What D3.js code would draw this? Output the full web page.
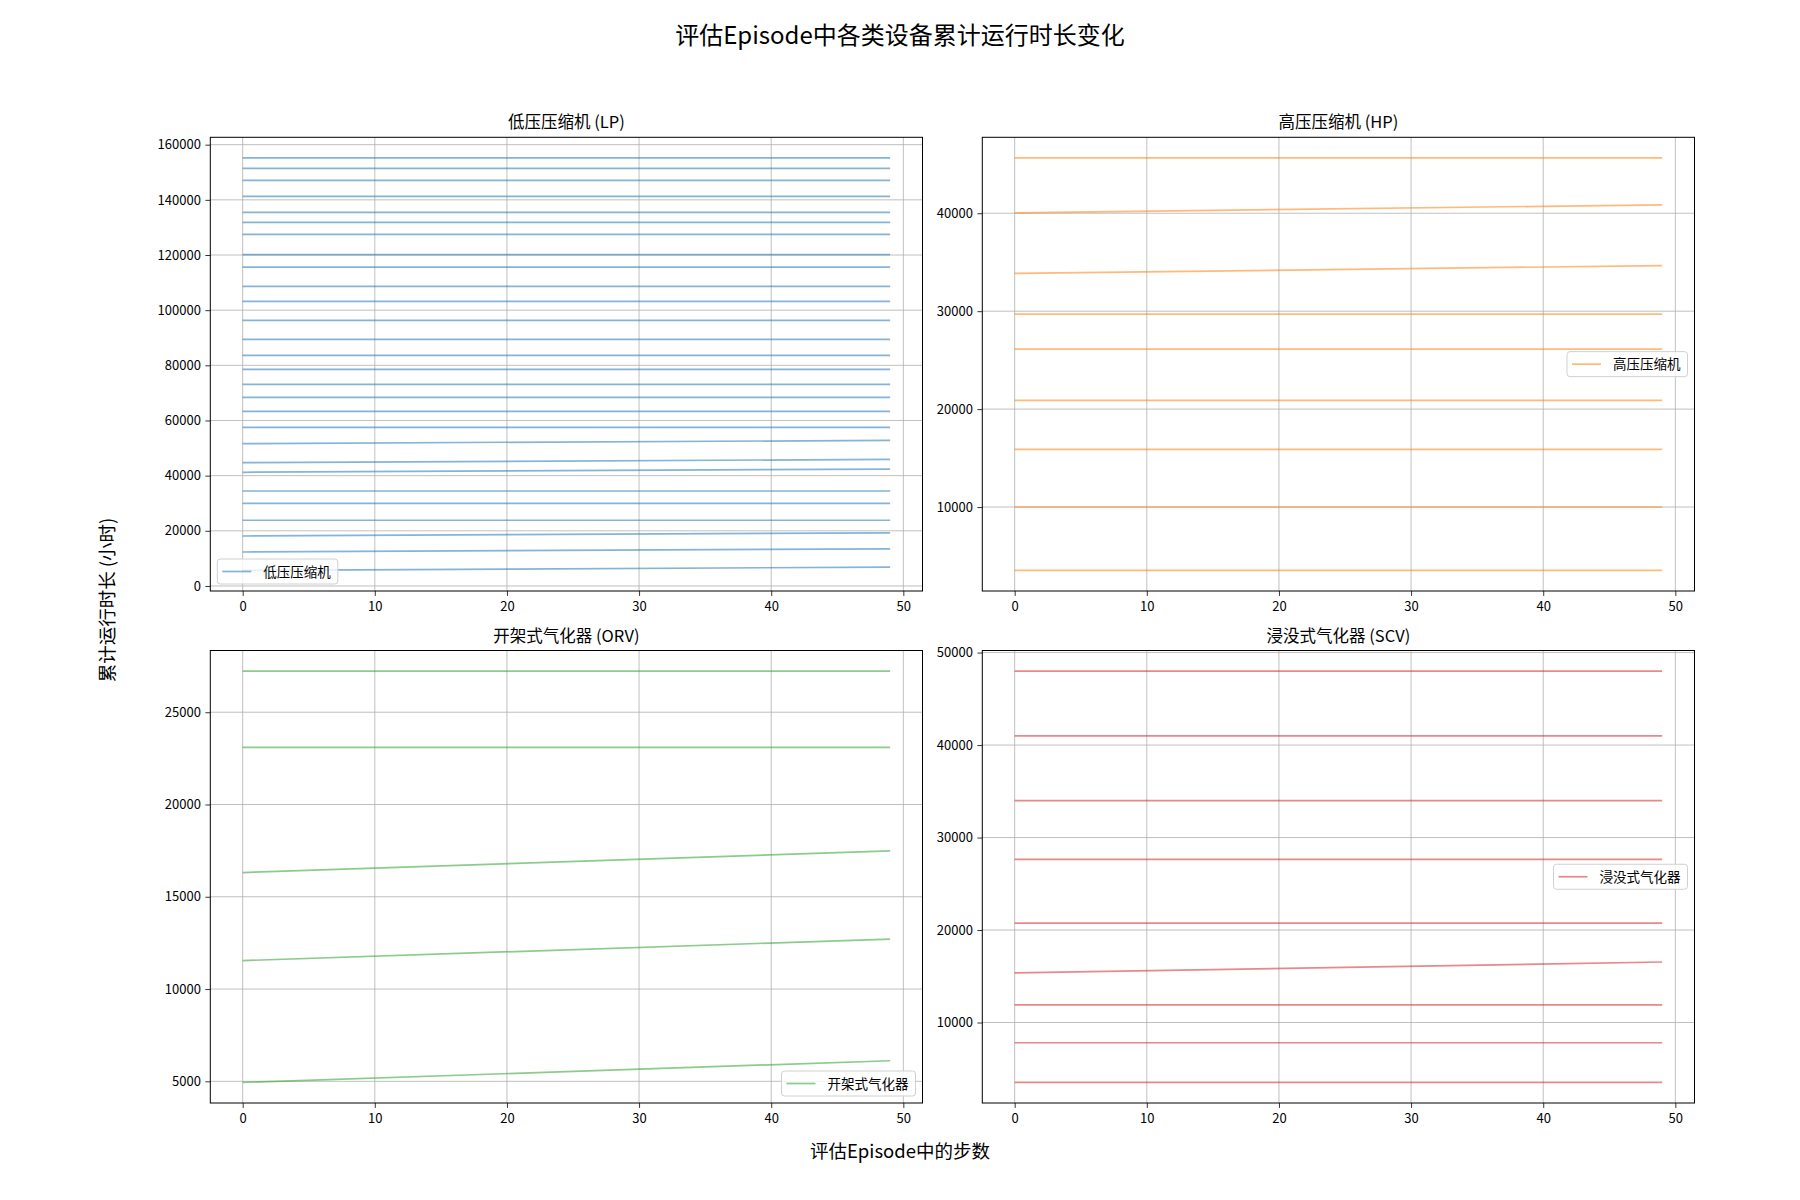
<!DOCTYPE html>
<html>
<head>
<meta charset="utf-8">
<script src="https://cdn.jsdelivr.net/npm/d3@7"></script>
<style>
  html, body { margin: 0; padding: 0; background: #fff; }
  svg { display: block; }
  text { font-family: "Noto Sans CJK SC", "DejaVu Sans", sans-serif; fill: #000; }
</style>
</head>
<body>
<svg id="chart" width="1800" height="1200"></svg>
<script>
// ---------------- data ----------------
const steps = [0, 49];                      // first and last evaluation step
const xTicks = [0, 10, 20, 30, 40, 50];

// 低压压缩机 (LP): cumulative hours per unit at step 0 and step 49
const lpStart = [155200, 151400, 147060, 141260, 135460, 131840, 127490, 120130, 115640, 108640,
                 103200, 96310, 89430, 83630, 78550, 73110, 68400, 63330, 57530, 51620,
                 44730, 41220, 34440, 29980, 23820, 18120, 12320, 5650];
const lpEnd   = [155200, 151400, 147060, 141260, 135460, 131840, 127490, 120130, 115640, 108640,
                 103200, 96310, 89430, 83630, 78550, 73110, 68400, 63330, 57530, 52780,
                 45890, 42380, 34440, 29980, 23820, 19280, 13480, 6830];
const lpTicks = [0, 20000, 40000, 60000, 80000, 100000, 120000, 140000, 160000];

// 高压压缩机 (HP)
const hpStart = [45650, 40040, 33850, 29690, 26120, 20890, 15890, 10000, 3530];
const hpEnd   = [45650, 40860, 34660, 29690, 26120, 20890, 15890, 10000, 3530];
const hpTicks = [10000, 20000, 30000, 40000];

// 开架式气化器 (ORV)
const orvStart = [27230, 23090, 16310, 11540, 4940];
const orvEnd   = [27230, 23090, 17490, 12710, 6115];
const orvTicks = [5000, 10000, 15000, 20000, 25000];

// 浸没式气化器 (SCV)
const scvStart = [48000, 41000, 34000, 27640, 20740, 15360, 11910, 7810, 3520];
const scvEnd   = [48000, 41000, 34000, 27640, 20740, 16540, 11910, 7810, 3520];
const scvTicks = [10000, 20000, 30000, 40000, 50000];

const titles  = ["低压压缩机 (LP)", "高压压缩机 (HP)", "开架式气化器 (ORV)", "浸没式气化器 (SCV)"];
const legends = ["低压压缩机", "高压压缩机", "开架式气化器", "浸没式气化器"];
const colors  = ["#1f77b4", "#ff7f0e", "#2ca02c", "#d62728"];

const suptitle = "评估Episode中各类设备累计运行时长变化";
const xLabel = "评估Episode中的步数";
const yLabel = "累计运行时长 (小时)";

// ---------------- layout ----------------
const svg = d3.select("#chart");
const boxes = [
  {x0: 210.3, x1: 922.5, y0: 137.3, y1: 591, legend: "lower left"},
  {x0: 982.3, x1: 1694.5, y0: 137.3, y1: 591, legend: "center right"},
  {x0: 210.3, x1: 922.5, y0: 650.5, y1: 1103, legend: "lower right"},
  {x0: 982.3, x1: 1694.5, y0: 650.5, y1: 1103, legend: "center right"}
];
const panelData = [
  {start: lpStart, end: lpEnd, ticks: lpTicks},
  {start: hpStart, end: hpEnd, ticks: hpTicks},
  {start: orvStart, end: orvEnd, ticks: orvTicks},
  {start: scvStart, end: scvEnd, ticks: scvTicks}
];

panelData.forEach((pd, i) => {
  const b = boxes[i];
  const series = pd.start.map((s, k) => steps.map((st, j) => ({step: st, v: j === 0 ? s : pd.end[k]})));
  const xr = d3.extent(steps), xm = (xr[1] - xr[0]) * 0.05;
  const x = d3.scaleLinear().domain([xr[0] - xm, xr[1] + xm]).range([b.x0, b.x1]);
  const all = pd.start.concat(pd.end);
  const yr = d3.extent(all), ym = (yr[1] - yr[0]) * 0.05;
  const y = d3.scaleLinear().domain([yr[0] - ym, yr[1] + ym]).range([b.y1, b.y0]);

  const g = svg.append("g");

  // grid
  g.append("g").selectAll("line.gx").data(xTicks.filter(t => x(t) >= b.x0 && x(t) <= b.x1)).join("line")
    .attr("x1", d => x(d)).attr("x2", d => x(d)).attr("y1", b.y0).attr("y2", b.y1)
    .attr("stroke", "#b0b0b0").attr("stroke-width", 0.8);
  g.append("g").selectAll("line.gy").data(pd.ticks).join("line")
    .attr("y1", d => y(d)).attr("y2", d => y(d)).attr("x1", b.x0).attr("x2", b.x1)
    .attr("stroke", "#b0b0b0").attr("stroke-width", 0.8);

  // lines
  const line = d3.line().x(d => x(d.step)).y(d => y(d.v));
  g.append("g").selectAll("path").data(series).join("path")
    .attr("d", line).attr("fill", "none")
    .attr("stroke", colors[i]).attr("stroke-opacity", 0.55).attr("stroke-width", 1.7);

  // axes
  const xAxis = d3.axisBottom(x).tickValues(xTicks).tickSize(4.9).tickPadding(5.5).tickFormat(d3.format("d"));
  const yAxis = d3.axisLeft(y).tickValues(pd.ticks).tickSize(4.9).tickPadding(4.5).tickFormat(d3.format("d"));
  const gx = g.append("g").attr("transform", `translate(0,${b.y1})`).call(xAxis);
  const gy = g.append("g").attr("transform", `translate(${b.x0},0)`).call(yAxis);
  [gx, gy].forEach(a => {
    a.select(".domain").remove();
    a.selectAll(".tick line").attr("stroke", "#000").attr("stroke-width", 0.8);
    a.selectAll(".tick text").attr("font-size", 13).attr("fill", "#000")
      .style("font-family", '"Noto Sans CJK SC", sans-serif');
  });

  // frame
  g.append("rect").attr("x", b.x0).attr("y", b.y0).attr("width", b.x1 - b.x0).attr("height", b.y1 - b.y0)
    .attr("fill", "none").attr("stroke", "#000").attr("stroke-width", 1);

  // title
  g.append("text").attr("x", (b.x0 + b.x1) / 2).attr("y", b.y0 - 9)
    .attr("text-anchor", "middle").attr("font-size", 16.5).text(titles[i]);

  // legend
  const lg = g.append("g");
  const lt = lg.append("text").attr("font-size", 13.5).text(legends[i]);
  const tw = lt.node().getComputedTextLength();
  const lw = 6 + 29 + 12 + tw + 6, lh = 25;
  let lx, ly;
  if (b.legend === "lower left") { lx = b.x0 + 7; ly = b.y1 - 7 - lh; }
  else if (b.legend === "lower right") { lx = b.x1 - 7 - lw; ly = b.y1 - 7 - lh; }
  else { lx = b.x1 - 7 - lw; ly = (b.y0 + b.y1) / 2 - lh / 2; }
  lg.insert("rect", "text").attr("x", lx).attr("y", ly).attr("width", lw).attr("height", lh)
    .attr("rx", 3).attr("fill", "#fff").attr("fill-opacity", 0.8)
    .attr("stroke", "#d0d0d0").attr("stroke-width", 1);
  lg.insert("line", "text").attr("x1", lx + 5).attr("x2", lx + 34).attr("y1", ly + lh / 2).attr("y2", ly + lh / 2)
    .attr("stroke", colors[i]).attr("stroke-opacity", 0.55).attr("stroke-width", 1.7);
  lt.attr("x", lx + 46).attr("y", ly + lh / 2 + 5);
});

// figure texts
svg.append("text").attr("x", 900).attr("y", 44).attr("text-anchor", "middle")
  .attr("font-size", 24).text(suptitle);
svg.append("text").attr("x", 900).attr("y", 1158).attr("text-anchor", "middle")
  .attr("font-size", 18.5).text(xLabel);
svg.append("text").attr("transform", "translate(114,600) rotate(-90)").attr("text-anchor", "middle")
  .attr("font-size", 18.5).text(yLabel);
</script>
</body>
</html>
